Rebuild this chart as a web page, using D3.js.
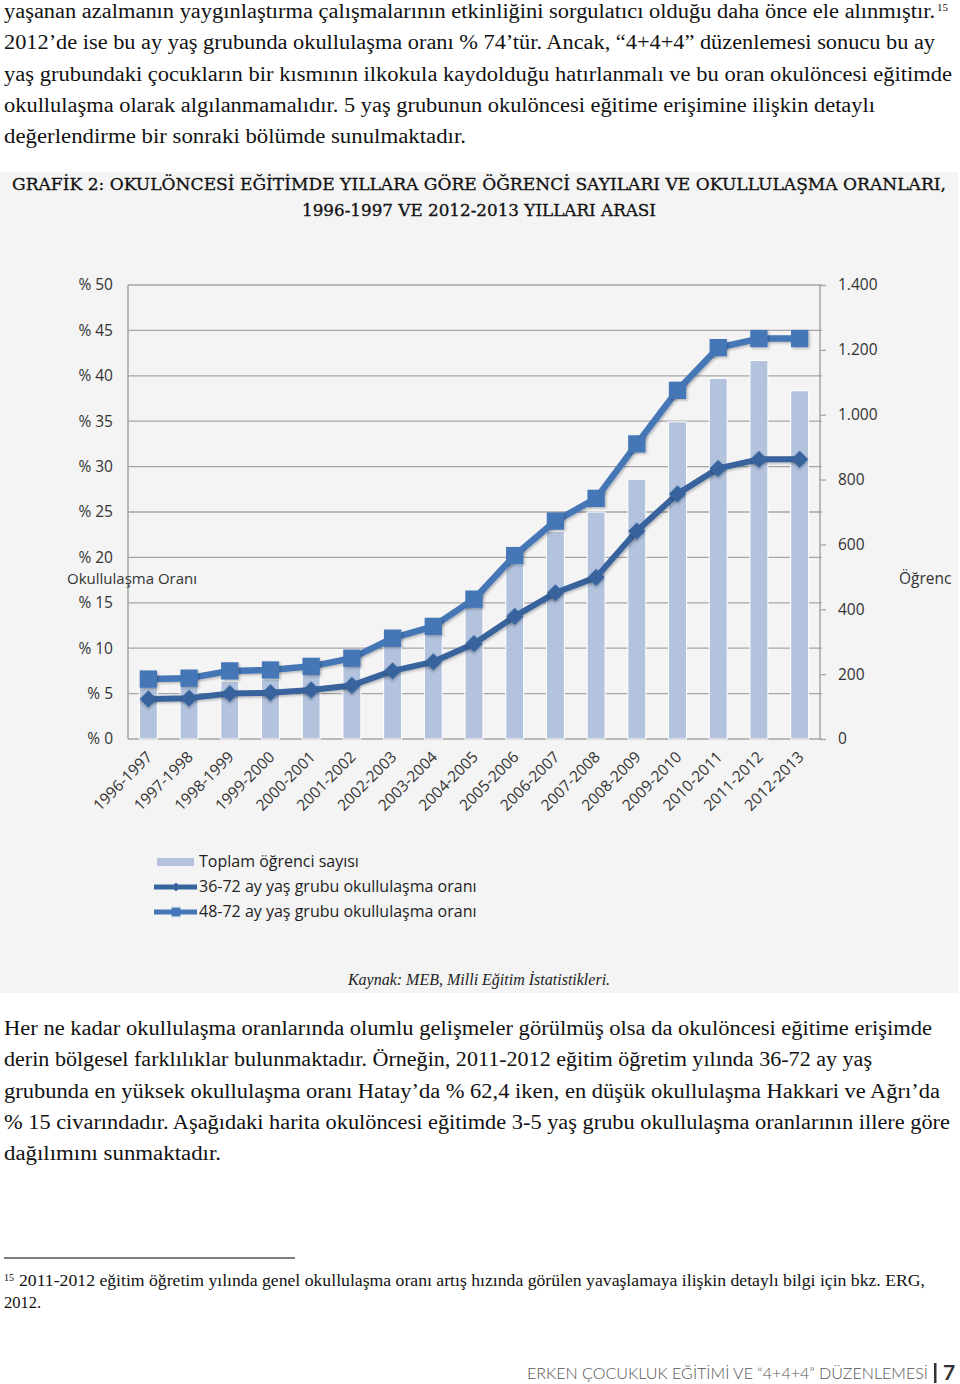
<!DOCTYPE html>
<html><head><meta charset="utf-8">
<script src="https://cdn.jsdelivr.net/npm/d3@7/dist/d3.min.js"></script>
<style>body{margin:0;background:#fff}svg{display:block}</style>
</head><body>
<script>
const categories = ["1996-1997","1997-1998","1998-1999","1999-2000","2000-2001","2001-2002","2002-2003","2003-2004","2004-2005","2005-2006","2006-2007","2007-2008","2008-2009","2009-2010","2010-2011","2011-2012","2012-2013"];
const students = [165,170,178,185,215,245,310,359,450,540,640,700,801,978,1112,1167,1074];
const rate36_72 = [4.4,4.5,5.0,5.1,5.4,5.9,7.5,8.5,10.5,13.5,16.1,17.8,22.9,27.0,29.8,30.8,30.8];
const rate48_72 = [6.6,6.7,7.5,7.6,8.0,8.9,11.1,12.4,15.4,20.2,24.0,26.5,32.5,38.4,43.1,44.1,44.1];
const leftTicks = [0,5,10,15,20,25,30,35,40,45,50];
const rightTicks = [0,200,400,600,800,1000,1200,1400];
const seriesNames = ["Toplam öğrenci sayısı","36-72 ay yaş grubu okullulaşma oranı","48-72 ay yaş grubu okullulaşma oranı"];
const para1 = [
 ["yaşanan azalmanın yaygınlaştırma çalışmalarının etkinliğini sorgulatıcı olduğu daha önce ele alınmıştır.",931],
 ["2012’de ise bu ay yaş grubunda okullulaşma oranı % 74’tür.   Ancak, “4+4+4” düzenlemesi sonucu bu ay",931],
 ["yaş grubundaki çocukların bir kısmının ilkokula kaydolduğu hatırlanmalı ve bu oran okulöncesi eğitimde",948],
 ["okullulaşma olarak algılanmamalıdır. 5 yaş grubunun okulöncesi eğitime erişimine ilişkin detaylı",871],
 ["değerlendirme bir sonraki bölümde sunulmaktadır.",462]];
const para2 = [
 ["Her ne kadar okullulaşma oranlarında olumlu gelişmeler görülmüş olsa da okulöncesi eğitime erişimde",928],
 ["derin bölgesel farklılıklar bulunmaktadır. Örneğin, 2011-2012 eğitim öğretim yılında 36-72 ay yaş",868],
 ["grubunda en yüksek okullulaşma oranı Hatay’da % 62,4 iken, en düşük okullulaşma Hakkari ve Ağrı’da",936],
 ["% 15 civarındadır. Aşağıdaki harita okulöncesi eğitimde 3-5 yaş grubu okullulaşma oranlarının illere göre",946],
 ["dağılımını sunmaktadır.",217]];

const W=960,H=1384;
const svg=d3.select("body").append("svg").attr("width",W).attr("height",H);
const serif="'Liberation Serif','DejaVu Serif',serif";
const sans="'Open Sans',Lato,sans-serif";

function para(lines,y0){
  lines.forEach((l,i)=>{
    svg.append("text").attr("x",4).attr("y",y0+i*31.3).attr("font-family",serif).attr("font-size",20.5)
      .attr("fill","#111").attr("textLength",l[1]).attr("lengthAdjust","spacingAndGlyphs").text(l[0]);
  });
}
para(para1,18);
svg.append("text").attr("x",937).attr("y",11).attr("font-family",serif).attr("font-size",11).attr("fill","#111").text("15");
para(para2,1035);

svg.append("rect").attr("x",0).attr("y",172).attr("width",958).attr("height",821).attr("fill","#f4f4f4");
const titleFont="'DejaVu Serif',serif";
svg.append("text").attr("x",479).attr("y",190).attr("text-anchor","middle").attr("font-family",titleFont)
  .attr("font-size",16.5).attr("fill","#111").attr("stroke","#111").attr("stroke-width",0.3).attr("textLength",934).attr("lengthAdjust","spacingAndGlyphs")
  .text("GRAFİK 2: OKULÖNCESİ EĞİTİMDE YILLARA GÖRE ÖĞRENCİ SAYILARI VE OKULLULAŞMA ORANLARI,");
svg.append("text").attr("x",479).attr("y",216).attr("text-anchor","middle").attr("font-family",titleFont)
  .attr("font-size",16.5).attr("fill","#111").attr("stroke","#111").attr("stroke-width",0.3).attr("textLength",354).attr("lengthAdjust","spacingAndGlyphs")
  .text("1996-1997 VE 2012-2013 YILLARI ARASI");

const L=128,R=820,T=285,B=739;
const x=d3.scaleBand().domain(categories).range([L,R]).padding(0);
const yL=d3.scaleLinear().domain([0,50]).range([B,T]);
const yR=d3.scaleLinear().domain([0,1400]).range([B,T]);
const fmt=d3.formatLocale({decimal:",",thousands:".",grouping:[3],currency:["",""]}).format(",");

svg.append("g").selectAll("line").data(leftTicks).join("line")
  .attr("x1",L).attr("x2",R+2).attr("y1",d=>yL(d)).attr("y2",d=>yL(d)).attr("stroke","#a6a6a6").attr("stroke-width",1.3);
svg.append("line").attr("x1",L).attr("x2",L).attr("y1",T).attr("y2",B).attr("stroke","#a6a6a6").attr("stroke-width",1.5);
svg.append("line").attr("x1",R).attr("x2",R).attr("y1",T).attr("y2",B).attr("stroke","#a6a6a6").attr("stroke-width",1.5);

const gL=svg.append("g").attr("transform",`translate(${L},0)`)
  .call(d3.axisLeft(yL).tickValues(leftTicks).tickSize(0).tickPadding(15).tickFormat(d=>"% "+d));
gL.select(".domain").remove();
gL.selectAll("text").attr("font-family",sans).attr("font-size",15.5).attr("fill","#333");
const gR=svg.append("g").attr("transform",`translate(${R},0)`)
  .call(d3.axisRight(yR).tickValues(rightTicks).tickSize(6).tickPadding(12).tickFormat(d=>fmt(d)));
gR.select(".domain").remove();
gR.selectAll("line").attr("stroke","#a6a6a6").attr("stroke-width",1.3);
gR.selectAll("text").attr("font-family",sans).attr("font-size",15.5).attr("fill","#333");

svg.append("text").attr("x",67).attr("y",584).attr("font-family",sans).attr("font-size",15).attr("fill","#333").text("Okullulaşma Oranı");
svg.append("text").attr("x",899).attr("y",584).attr("font-family",sans).attr("font-size",15.5).attr("fill","#333").text("Öğrenc");

const bw=x.bandwidth()*0.44;
svg.append("g").selectAll("rect").data(categories).join("rect")
  .attr("x",d=>x(d)+x.bandwidth()/2-bw/2).attr("width",bw)
  .attr("y",(d,i)=>yR(students[i])).attr("height",(d,i)=>B-yR(students[i]))
  .attr("fill","#b3c3de").attr("stroke","#fff").attr("stroke-width",1);

const defs=svg.append("defs");
const f=defs.append("filter").attr("id","sh").attr("x","-30%").attr("y","-30%").attr("width","170%").attr("height","170%");
f.append("feDropShadow").attr("dx",1.5).attr("dy",1.5).attr("stdDeviation",1.2).attr("flood-color","#000").attr("flood-opacity",0.25);

const cx=d=>x(d)+x.bandwidth()/2;
const c36="#37649c",c48="#4577b7";
const line=d3.line();
svg.append("path").attr("d",line(categories.map((d,i)=>[cx(d),yL(rate36_72[i])]))).attr("fill","none")
  .attr("stroke",c36).attr("stroke-width",6).attr("stroke-linejoin","round").attr("filter","url(#sh)");
svg.append("g").selectAll("path").data(categories).join("path")
  .attr("d",d3.symbol(d3.symbolSquare,150))
  .attr("transform",(d,i)=>`translate(${cx(d)},${yL(rate36_72[i])}) rotate(45)`)
  .attr("fill",c36).attr("filter","url(#sh)");
svg.append("path").attr("d",line(categories.map((d,i)=>[cx(d),yL(rate48_72[i])]))).attr("fill","none")
  .attr("stroke",c48).attr("stroke-width",6.5).attr("stroke-linejoin","round").attr("filter","url(#sh)");
svg.append("g").selectAll("path").data(categories).join("path")
  .attr("d",d3.symbol(d3.symbolSquare,300))
  .attr("transform",(d,i)=>`translate(${cx(d)},${yL(rate48_72[i])})`)
  .attr("fill",c48).attr("filter","url(#sh)");

svg.append("g").selectAll("text").data(categories).join("text")
  .attr("transform",d=>`translate(${cx(d)+5},${B+19}) rotate(-45)`)
  .attr("text-anchor","end").attr("font-family",sans).attr("font-size",15.5).attr("fill","#333").text(d=>d);

const lg=svg.append("g");
lg.append("rect").attr("x",157).attr("y",858).attr("width",37).attr("height",8).attr("fill","#b3c3de");
lg.append("line").attr("x1",154).attr("x2",197).attr("y1",887).attr("y2",887).attr("stroke",c36).attr("stroke-width",5);
lg.append("path").attr("d",d3.symbol(d3.symbolSquare,40)).attr("transform","translate(176,887) rotate(45)").attr("fill",c36);
lg.append("line").attr("x1",154).attr("x2",197).attr("y1",912).attr("y2",912).attr("stroke",c48).attr("stroke-width",5);
lg.append("path").attr("d",d3.symbol(d3.symbolSquare,80)).attr("transform","translate(176,912)").attr("fill",c48);
lg.selectAll("text").data(seriesNames).join("text").attr("x",199).attr("y",(d,i)=>867+i*25)
  .attr("font-family",sans).attr("font-size",16).attr("fill","#222").text(d=>d);

svg.append("text").attr("x",479).attr("y",985).attr("text-anchor","middle").attr("font-family",serif).attr("font-style","italic")
  .attr("font-size",16).attr("fill","#222").text("Kaynak: MEB, Milli Eğitim İstatistikleri.");

svg.append("line").attr("x1",4).attr("x2",295).attr("y1",1258).attr("y2",1258).attr("stroke","#000").attr("stroke-width",1.2);
svg.append("text").attr("x",4).attr("y",1281).attr("font-family",serif).attr("font-size",10).attr("fill","#111").text("15");
svg.append("text").attr("x",19).attr("y",1286).attr("font-family",serif).attr("font-size",16.5).attr("fill","#111")
  .attr("textLength",906).attr("lengthAdjust","spacingAndGlyphs")
  .text("2011-2012 eğitim öğretim yılında genel okullulaşma oranı artış hızında görülen yavaşlamaya ilişkin detaylı bilgi için bkz. ERG,");
svg.append("text").attr("x",4).attr("y",1308).attr("font-family",serif).attr("font-size",16.5).attr("fill","#111").text("2012.");

svg.append("text").attr("x",928).attr("y",1379).attr("text-anchor","end").attr("font-family","Lato,sans-serif").attr("font-weight",300).attr("font-size",16)
  .attr("fill","#555").attr("textLength",401).attr("lengthAdjust","spacingAndGlyphs").text("ERKEN ÇOCUKLUK EĞİTİMİ VE “4+4+4” DÜZENLEMESİ");
svg.append("rect").attr("x",934).attr("y",1363).attr("width",2.5).attr("height",20).attr("fill","#333");
svg.append("text").attr("x",943).attr("y",1380).attr("font-family","Lato,sans-serif").attr("font-weight",700).attr("font-size",21).attr("fill","#333").text("7");
</script>
</body></html>
